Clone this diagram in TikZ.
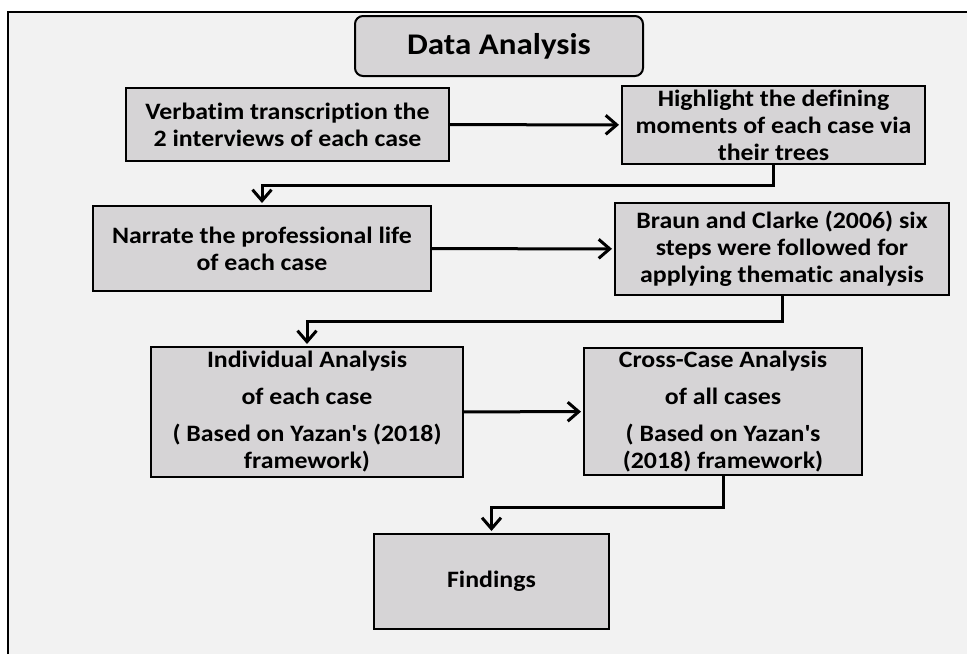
\documentclass[tikz,border=0pt]{standalone}
\usepackage{fontspec}
\setmainfont{Carlito}[FakeStretch=1.1, Ligatures=NoCommon]
\usepackage{tikz}
\usetikzlibrary{arrows.meta,shapes}
\definecolor{boxgray}{RGB}{214,212,214}
\definecolor{pagegray}{RGB}{242,242,242}
\tikzstyle{stagebox}=[draw=black, fill=boxgray, line width=2pt, align=center,
                inner sep=2pt, font=\bfseries\fontsize{23.5}{27}\selectfont]
\tikzstyle{titlebox}=[stagebox, rounded corners=8pt,
                font=\bfseries\fontsize{30}{35}\selectfont]
\tikzstyle{arr}=[line width=3pt, -{Straight Barb[length=11pt,width=19pt,line width=3pt]},
                shorten >=2pt]
\newcommand{\apos}{\textquotesingle}

\begin{document}
\begin{tikzpicture}[x=1pt,y=-1pt]
\path[use as bounding box] (0,0) rectangle (967,654);
\fill[pagegray] (8,12) rectangle (967,654);
\draw[line width=2pt] (8,654) -- (8,12) -- (967,12);
\node[titlebox, minimum width=288pt, minimum height=60pt] (title) at (499,46) {Data Analysis};
\node[stagebox, minimum width=323pt, minimum height=73pt] (verb) at (287.5,124.5)
  {Verbatim transcription the\\2 interviews of each case};
\node[stagebox, minimum width=303pt, minimum height=78pt] (high) at (773.5,125)
  {Highlight the defining\\moments of each case via\\their trees};
\node[stagebox, minimum width=338pt, minimum height=85pt] (narr) at (262,248.5)
  {Narrate the professional life\\of each case};
\node[stagebox, minimum width=334pt, minimum height=92pt] (braun) at (782,249)
  {Braun and Clarke (2006) six\\steps were followed for\\applying thematic analysis};
\node[stagebox, minimum width=312pt, minimum height=130pt] (indiv) at (307,412)
  {Individual Analysis\\[10pt]of each case\\[10pt]( Based on Yazan\apos s (2018)\\framework)};
\node[stagebox, minimum width=278pt, minimum height=127pt] (cross) at (723,411.5)
  {Cross-Case Analysis\\[10pt]of all cases\\[10pt]( Based on Yazan\apos s\\(2018) framework)};
\node[stagebox, minimum width=235pt, minimum height=95pt] (find) at (491.5,581.5) {Findings};
\path[arr]
  (verb) edge (high)
  (narr) edge (braun)
  (indiv) edge (cross);
\draw[arr] (high.south) -- ++(0,20) -| (narr.north);
\draw[arr] (braun.south) -- ++(0,25) -| (indiv.north);
\draw[arr] (cross.south) -- ++(0,31) -| (find.north);
\end{tikzpicture}
\end{document}
